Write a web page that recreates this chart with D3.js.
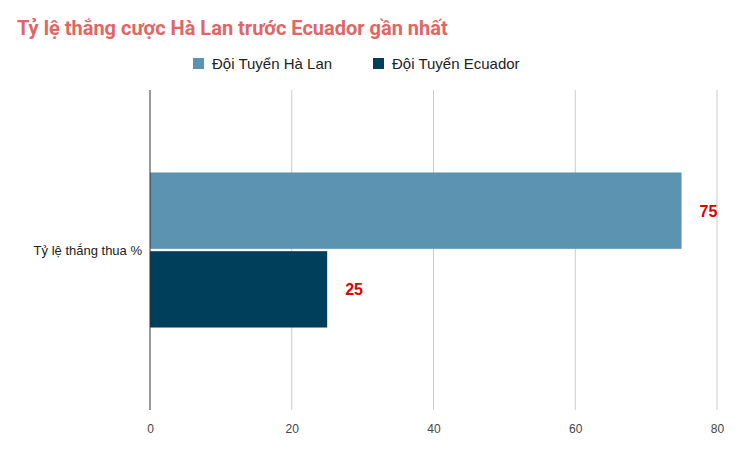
<!DOCTYPE html>
<html><head><meta charset="utf-8">
<script src="https://cdn.jsdelivr.net/npm/d3@7"></script>
<style>body{margin:0;background:#fff;font-family:Arial,"Liberation Sans",sans-serif}</style>
</head><body><svg id="c" width="746" height="457"></svg>
<script>
const categories = ["Tỷ lệ thắng thua %"];
const seriesNames = ["Đội Tuyển Hà Lan", "Đội Tuyển Ecuador"];
const seriesValues = [[75], [25]];
const seriesColors = ["#5b93b1", "#003f5c"];
const xTicks = [0, 20, 40, 60, 80];
const title = "Tỷ lệ thắng cược Hà Lan trước Ecuador gần nhất";

const svg = d3.select("#c");
const F = "Arial,'Liberation Sans',sans-serif";
svg.append("text").attr("x", 17).attr("y", 35).attr("font-size", 20).attr("font-weight", "bold")
  .attr("font-family", "Roboto,Arial,sans-serif").attr("fill", "#e06666").text(title);

const x = d3.scaleLinear().domain([0, 80]).range([150, 717]);
const y = d3.scaleBand().domain(categories).range([90, 410]).paddingInner(0).paddingOuter(0.532);
const y1 = d3.scaleBand().domain(seriesNames).range([0, y.bandwidth()]).paddingInner(0.03);

const gx = svg.append("g").attr("transform", "translate(0,410)")
  .call(d3.axisBottom(x).tickValues(xTicks).tickSize(0).tickPadding(14));
gx.select(".domain").remove();
gx.selectAll("text").attr("font-size", 12).attr("fill", "#444").attr("font-family", F);
svg.append("g").selectAll("line").data(xTicks.filter(d => d > 0)).join("line")
  .attr("x1", d => x(d)).attr("x2", d => x(d)).attr("y1", 90).attr("y2", 410).attr("stroke", "#ccc");

categories.forEach((c, ci) => {
  seriesNames.forEach((s, si) => {
    const v = seriesValues[si][ci];
    const yy = y(c) + y1(s);
    svg.append("rect").attr("x", x(0)).attr("y", yy).attr("width", x(v) - x(0))
      .attr("height", y1.bandwidth()).attr("fill", seriesColors[si]);
    svg.append("text").attr("x", x(v) + 18).attr("y", yy + y1.bandwidth() / 2 + 6)
      .attr("font-size", 16).attr("font-weight", "bold").attr("font-family", F).attr("fill", "#e00000").text(v);
  });
  svg.append("text").attr("x", 142).attr("y", y(c) + y.bandwidth() / 2 + 5).attr("text-anchor", "end")
    .attr("font-size", 13).attr("font-family", F).attr("fill", "#222").text(c);
});
svg.append("line").attr("x1", x(0)).attr("x2", x(0)).attr("y1", 90).attr("y2", 410).attr("stroke", "#333");

const leg = [[193, 212], [373, 392]];
seriesNames.forEach((s, i) => {
  svg.append("rect").attr("x", leg[i][0]).attr("y", 58).attr("width", 11).attr("height", 11).attr("fill", seriesColors[i]);
  svg.append("text").attr("x", leg[i][1]).attr("y", 69).attr("font-size", 15).attr("font-family", F).attr("fill", "#222").text(s);
});
</script></body></html>
